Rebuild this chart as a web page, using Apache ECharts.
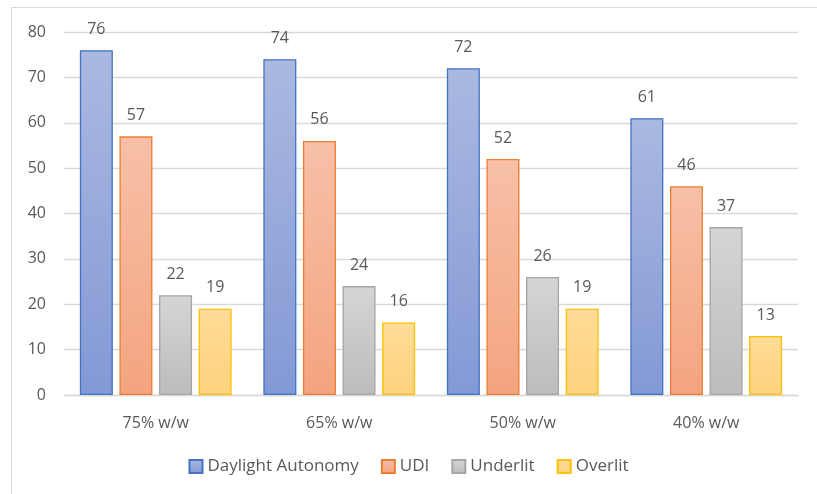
<!DOCTYPE html>
<html>
<head>
<meta charset="utf-8">
<script src="https://cdn.jsdelivr.net/npm/echarts@6/dist/echarts.min.js"></script>
<style>
  html, body { margin: 0; padding: 0; background: #fff; }
  #chart { width: 817px; height: 494px; }
</style>
</head>
<body>
<div id="chart"></div>
<script>
const categories = ['75% w/w', '65% w/w', '50% w/w', '40% w/w']
const daylightAutonomy = [76, 74, 72, 61]
const udi = [57, 56, 52, 46]
const underlit = [22, 24, 26, 37]
const overlit = [19, 16, 19, 13]

const grad = (top, bottom) => new echarts.graphic.LinearGradient(0, 0, 0, 1, [
  { offset: 0, color: top },
  { offset: 1, color: bottom }
])

const makeSeries = (name, data, top, bottom, border) => ({
  name,
  type: 'bar',
  data,
  barWidth: 33,
  barGap: '20%',
  itemStyle: { color: grad(top, bottom), borderColor: border, borderWidth: 1.3 },
  label: {
    show: true,
    position: 'top',
    distance: 13,
    color: '#595959',
    fontSize: 16,
    fontFamily: 'Open Sans'
  }
})

const chart = echarts.init(document.getElementById('chart'))
chart.setOption({
  animation: false,
  textStyle: { fontFamily: 'Open Sans' },
  graphic: [{
    type: 'rect',
    shape: { x: 11.5, y: 7.5, width: 900, height: 600 },
    style: { fill: 'none', stroke: '#d9d9d9', lineWidth: 1 },
    silent: true
  }],
  grid: { left: 64, right: 19, top: 32, bottom: 99 },
  legend: {
    bottom: 14,
    left: 'center',
    icon: 'rect',
    itemWidth: 13,
    itemHeight: 13,
    itemGap: 22,
    textStyle: { color: '#595959', fontSize: 17 },
    data: ['Daylight Autonomy', 'UDI', 'Underlit', 'Overlit']
  },
  xAxis: {
    type: 'category',
    data: categories,
    axisLine: { lineStyle: { color: '#d9d9d9', width: 1.3 } },
    axisTick: { show: false },
    axisLabel: { color: '#595959', fontSize: 16, margin: 20 }
  },
  yAxis: {
    type: 'value',
    min: 0,
    max: 80,
    interval: 10,
    axisLine: { show: false },
    axisTick: { show: false },
    splitLine: { lineStyle: { color: '#d9d9d9', width: 1.3 } },
    axisLabel: { color: '#595959', fontSize: 16, margin: 18 }
  },
  series: [
    makeSeries('Daylight Autonomy', daylightAutonomy, '#abb9e1', '#8399d5', '#4472c4'),
    makeSeries('UDI', udi, '#f7c0a8', '#f4a47f', '#ed7d31'),
    makeSeries('Underlit', underlit, '#d5d5d5', '#bcbcbc', '#a5a5a5'),
    makeSeries('Overlit', overlit, '#ffdc98', '#fed27e', '#ffc000')
  ]
})
</script>
</body>
</html>
